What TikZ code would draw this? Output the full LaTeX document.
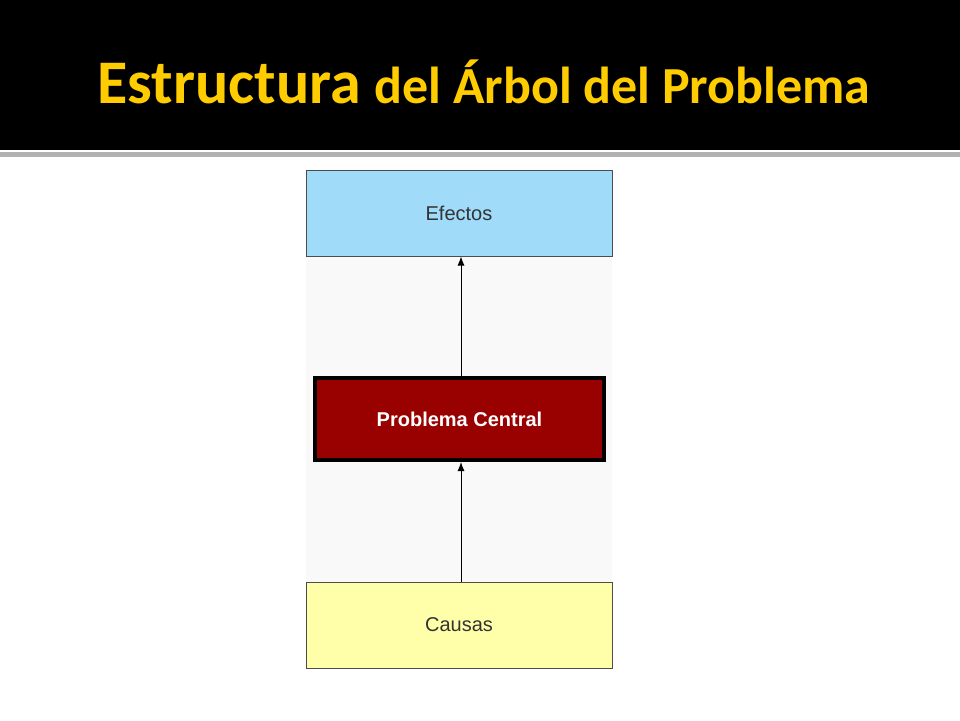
\documentclass[tikz,border=0pt]{standalone}
\usepackage{fontspec}
\setmainfont{Liberation Sans}
\newfontfamily\titlefont{Carlito}
\usetikzlibrary{arrows.meta}
\definecolor{titleyellow}{RGB}{255,204,0}
\definecolor{effblue}{RGB}{160,220,250}
\definecolor{probred}{RGB}{153,0,0}
\definecolor{causeyellow}{RGB}{255,255,170}
\begin{document}
\begin{tikzpicture}[x=1pt,y=-1pt,
  box/.style={draw=black!70,line width=1pt,minimum width=306pt,minimum height=86pt,font=\fontsize{20}{24}\selectfont,text=black!80},
  conn/.style={-{Latex[length=9pt,width=7pt]},line width=1pt}]
\useasboundingbox (0,0) rectangle (960,720);
\fill[white] (0,0) rectangle (960,720);
\fill[black] (0,0) rectangle (960,150);
\fill[gray!60] (0,152) rectangle (960,157);
\fill[gray!5] (306,256) rectangle (612,582);
\node[anchor=base,text=titleyellow,font=\titlefont\bfseries] (title) at (484,103)
  {\fontsize{62}{70}\selectfont Estructura \fontsize{52}{60}\selectfont del Árbol del Problema};
\node[box,fill=effblue] (efectos) at (459,213) {Efectos};
\node[box,fill=probred,draw=black,line width=4pt,minimum width=289pt,minimum height=82pt,text=white,font=\fontsize{20}{24}\selectfont\bfseries] (prob) at (459.5,419) {Problema Central};
\node[box,fill=causeyellow] (causas) at (459,625) {Causas};
\draw[conn] (causas.north -| 461,0) -- (prob.south -| 461,0);
\draw[conn] (prob.north -| 461,0) -- (efectos.south -| 461,0);
\end{tikzpicture}
\end{document}
